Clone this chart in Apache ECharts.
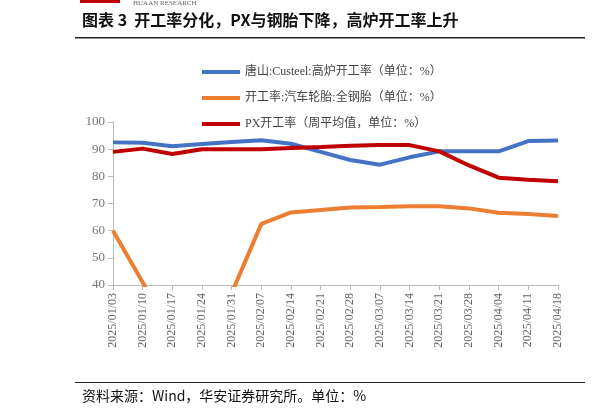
<!DOCTYPE html><html><head><meta charset="utf-8"><script src="https://cdn.jsdelivr.net/npm/echarts@6/dist/echarts.min.js"></script>
<style>body{margin:0}#c{width:600px;height:418px}</style></head><body><div id="c"></div><script>
const categories=['2025/01/03','2025/01/10','2025/01/17','2025/01/24','2025/01/31','2025/02/07','2025/02/14','2025/02/21','2025/02/28','2025/03/07','2025/03/14','2025/03/21','2025/03/28','2025/04/04','2025/04/11','2025/04/18'];
const blastFurnace=[92.5,92.4,91.1,91.9,92.6,93.3,92,89,86,84.3,87,89.2,89.2,89.2,93,93.2];
const tyre=[60,41,20,15,37,62.5,66.7,67.6,68.5,68.7,69,69,68.2,66.6,66.1,65.4];
const px=[89,90.2,88.2,90,90,90,90.4,90.8,91.3,91.5,91.5,89.2,84,79.5,78.7,78.2];
const names=['唐山:Custeel:高炉开工率（单位：%）','开工率:汽车轮胎:全钢胎（单位：%）','PX开工率（周平均值，单位：%）'];
const f='"Times New Roman","Liberation Serif","Noto Sans CJK SC",serif';
const ch=echarts.init(document.getElementById('c'));
const mk=(n,d,c)=>({name:n,type:'line',data:d,symbol:'none',lineStyle:{width:4,color:c},itemStyle:{color:c}});
ch.setOption({
 animation:false,
 graphic:[
  {type:'rect',shape:{x:80,y:0,width:40,height:3},style:{fill:'#c00000'}},
  {type:'text',left:133,top:0,style:{text:'HUAAN RESEARCH',font:'7px '+f,fill:'#666'}},
  {type:'text',left:82,top:12,style:{text:'图表 3  开工率分化，PX与钢胎下降，高炉开工率上升',font:'bold 16px "Noto Sans CJK SC"',fill:'#111'}},
  {type:'rect',shape:{x:75,y:37,width:510,height:1.5},style:{fill:'#222'}},
  {type:'rect',shape:{x:75,y:382,width:510,height:1},style:{fill:'#222'}},
  {type:'text',left:82,top:389,style:{text:'资料来源：Wind，华安证券研究所。单位：%',font:'14px "Noto Sans CJK SC"',fill:'#111'}}
 ],
 legend:{orient:'vertical',left:197,top:61,itemGap:14,itemWidth:38,itemHeight:4,icon:'rect',textStyle:{fontFamily:f,fontSize:12,color:'#444'},data:names},
 grid:{left:113,right:42,top:122,bottom:133},
 xAxis:{type:'category',data:categories,boundaryGap:false,axisLine:{lineStyle:{color:'#bbb'}},axisTick:{show:true,alignWithLabel:true,lineStyle:{color:'#bbb'}},axisLabel:{rotate:90,interval:0,fontFamily:f,fontSize:12,color:'#666'}},
 yAxis:{type:'value',min:40,max:100,interval:10,axisLine:{show:true,lineStyle:{color:'#bbb'}},axisTick:{show:true,lineStyle:{color:'#bbb'}},splitLine:{show:false},axisLabel:{fontFamily:f,fontSize:13,color:'#777'}},
 series:[mk(names[0],blastFurnace,'#4472c4'),mk(names[1],tyre,'#ed7d31'),mk(names[2],px,'#c00000')]
});
</script></body></html>
